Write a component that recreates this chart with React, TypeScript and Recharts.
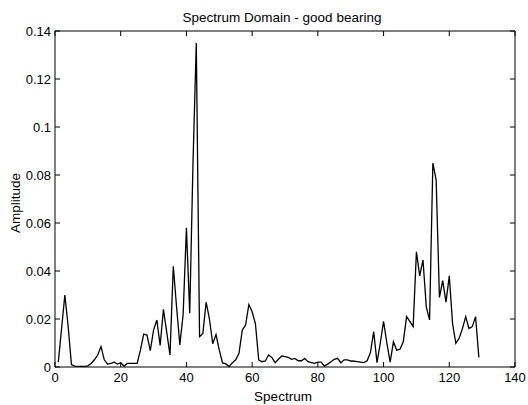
import React from 'react';
import { LineChart, Line, XAxis, YAxis, Label } from 'recharts';

const amplitude: number[] = [
  0.002, 0.016, 0.030, 0.017, 0.001, 0.0004, 0.0003, 0.0003, 0.0003, 0.0005,
  0.0015, 0.003, 0.005, 0.0085, 0.003, 0.0012, 0.0015, 0.002, 0.0012, 0.0018,
  0.0004, 0.0015, 0.0015, 0.0015, 0.0015, 0.007, 0.0137, 0.0133, 0.0068, 0.0154,
  0.0196, 0.009, 0.024, 0.0145, 0.005, 0.042, 0.025, 0.0092, 0.022, 0.058,
  0.0224, 0.085, 0.135, 0.0126, 0.014, 0.027, 0.020, 0.0097, 0.0135, 0.007,
  0.0017, 0.0013, 0.0002, 0.0018, 0.003, 0.0057, 0.0154, 0.0175, 0.026, 0.023,
  0.018, 0.003, 0.0022, 0.0025, 0.005, 0.004, 0.0018, 0.0032, 0.0046, 0.0043,
  0.004, 0.0032, 0.0036, 0.0026, 0.0026, 0.0036, 0.0022, 0.0018, 0.0015, 0.002,
  0.002, 0.0004, 0.0012, 0.0022, 0.0032, 0.0036, 0.0018, 0.003, 0.003, 0.0025,
  0.0024, 0.0022, 0.002, 0.0018, 0.0026, 0.006, 0.0147, 0.0018, 0.01, 0.019,
  0.01, 0.002, 0.0105, 0.007, 0.0074, 0.0105, 0.021, 0.019, 0.0168, 0.048,
  0.038, 0.0446, 0.025, 0.0196, 0.085, 0.078, 0.029, 0.036, 0.027, 0.038,
  0.018, 0.0099, 0.012, 0.016, 0.021, 0.016, 0.0168, 0.021, 0.004,
];

const xTicks: number[] = [0, 20, 40, 60, 80, 100, 120, 140];
const xTickLabels: string[] = ['0', '20', '40', '60', '80', '100', '120', '140'];
const yTicks: number[] = [0, 0.02, 0.04, 0.06, 0.08, 0.1, 0.12, 0.14];
const yTickLabels: string[] = ['0', '0.02', '0.04', '0.06', '0.08', '0.1', '0.12', '0.14'];

const chartTitle = 'Spectrum Domain - good bearing';
const xLabel = 'Spectrum';
const yLabel = 'Amplitude';

const data = amplitude.map((a, i) => ({ bin: i + 1, amp: a }));

const FONT = '"Liberation Sans", Arial, Helvetica, sans-serif';
const TICK = 5;

const labelFor = (ticks: number[], labels: string[], v: number) => {
  const idx = ticks.findIndex((t) => Math.abs(t - v) < 1e-9);
  return idx >= 0 ? labels[idx] : String(v);
};

const BottomTick = (props: any) => {
  const { x, y, payload } = props;
  return (
    <g>
      <line x1={x} x2={x} y1={y} y2={y - TICK} stroke="#000" strokeWidth={1} />
      <text x={x} y={y + 15} textAnchor="middle" fontSize={13} fontFamily={FONT} fill="#000">
        {labelFor(xTicks, xTickLabels, payload.value)}
      </text>
    </g>
  );
};

const TopTick = (props: any) => {
  const { x, y } = props;
  return <line x1={x} x2={x} y1={y} y2={y + TICK} stroke="#000" strokeWidth={1} />;
};

const LeftTick = (props: any) => {
  const { x, y, payload } = props;
  return (
    <g>
      <line x1={x} x2={x + TICK} y1={y} y2={y} stroke="#000" strokeWidth={1} />
      <text x={x - 4} y={y} dy="0.36em" textAnchor="end" fontSize={13} fontFamily={FONT} fill="#000">
        {labelFor(yTicks, yTickLabels, payload.value)}
      </text>
    </g>
  );
};

const RightTick = (props: any) => {
  const { x, y } = props;
  return <line x1={x} x2={x - TICK} y1={y} y2={y} stroke="#000" strokeWidth={1} />;
};

export default function App() {
  return (
    <div style={{ position: 'absolute', left: 0, top: 0, width: 528, height: 405, background: '#fff' }}>
      <LineChart
        width={528}
        height={405}
        data={data}
        margin={{ top: 30, right: 12, bottom: 0, left: 0 }}
      >
        <XAxis
          dataKey="bin"
          type="number"
          domain={[0, 140]}
          ticks={xTicks}
          interval={0}
          height={38}
          tickSize={0}
          tickMargin={0}
          tick={<BottomTick />}
          axisLine={{ stroke: '#000', strokeWidth: 1 }}
          tickLine={false}
        >
          <Label
            content={(p: any) => {
              const vb = p.viewBox || {};
              return (
                <text x={283} y={(vb.y ?? 367) + 34} textAnchor="middle" fontSize={13.5} fontFamily={FONT} fill="#000">
                  {xLabel}
                </text>
              );
            }}
          />
        </XAxis>
        <XAxis
          xAxisId="top"
          orientation="top"
          dataKey="bin"
          type="number"
          domain={[0, 140]}
          ticks={xTicks}
          interval={0}
          height={1}
          tickSize={0}
          tickMargin={0}
          tick={<TopTick />}
          axisLine={{ stroke: '#000', strokeWidth: 1 }}
          tickLine={false}
        />
        <YAxis
          type="number"
          domain={[0, 0.14]}
          ticks={yTicks}
          interval={0}
          width={55}
          tickSize={0}
          tickMargin={0}
          tick={<LeftTick />}
          axisLine={{ stroke: '#000', strokeWidth: 1 }}
          tickLine={false}
        >
          <Label
            content={() => (
              <g>
                <text
                  x={19.5}
                  y={203}
                  textAnchor="middle"
                  fontSize={13.5}
                  fontFamily={FONT}
                  fill="#000"
                  transform="rotate(-90, 19.5, 203)"
                >
                  {yLabel}
                </text>
                <text x={282} y={22} textAnchor="middle" fontSize={13.5} fontFamily={FONT} fill="#000">
                  {chartTitle}
                </text>
              </g>
            )}
          />
        </YAxis>
        <YAxis
          yAxisId="right"
          orientation="right"
          type="number"
          domain={[0, 0.14]}
          ticks={yTicks}
          interval={0}
          width={1}
          tickSize={0}
          tickMargin={0}
          tick={<RightTick />}
          axisLine={{ stroke: '#000', strokeWidth: 1 }}
          tickLine={false}
        />
        <Line
          type="linear"
          dataKey="amp"
          stroke="#000"
          strokeWidth={1.3}
          dot={false}
          isAnimationActive={false}
        />
        <Line
          xAxisId="top"
          yAxisId="right"
          type="linear"
          dataKey="amp"
          stroke="none"
          strokeOpacity={0}
          dot={false}
          activeDot={false}
          legendType="none"
          isAnimationActive={false}
        />
      </LineChart>
    </div>
  );
}
